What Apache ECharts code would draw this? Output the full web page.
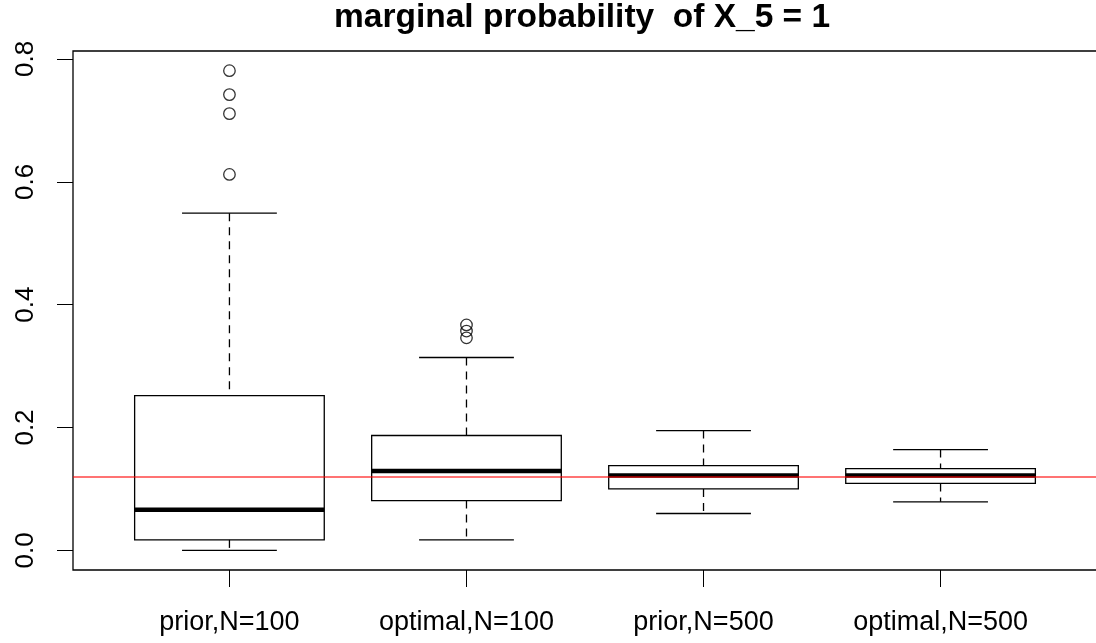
<!DOCTYPE html>
<html>
<head>
<meta charset="utf-8">
<title>marginal probability of X_5 = 1</title>
<script src="https://cdn.jsdelivr.net/npm/echarts@6/dist/echarts.min.js"></script>
<style>
  html, body { margin: 0; padding: 0; background: #fff; }
  #chart { width: 1096px; height: 643px; }
</style>
</head>
<body>
<div id="chart"></div>
<script>
// groups along the x axis (positions 1..4)
const categories = ["prior,N=100", "optimal,N=100", "prior,N=500", "optimal,N=500"]
const positions = [1, 2, 3, 4]

// box statistics
const lowerWhisker = [0.0, 0.017, 0.060, 0.079]
const lowerQuartile = [0.017, 0.081, 0.100, 0.109]
const medians = [0.066, 0.129, 0.122, 0.122]
const upperQuartile = [0.252, 0.187, 0.138, 0.133]
const upperWhisker = [0.549, 0.314, 0.195, 0.164]
const outliers = [
    [0.781, 0.742, 0.711, 0.612],
    [0.367, 0.357, 0.346],
    [],
    [],
]

const referenceValue = 0.12
const yTicks = [0, 0.2, 0.4, 0.6, 0.8]

const BOX_WEX = 0.8
const STAPLE_WEX = 0.4
const FONT = "'Liberation Sans', Arial, sans-serif"

const boxData = positions.map((p, i) => [
    p, lowerWhisker[i], lowerQuartile[i], medians[i], upperQuartile[i], upperWhisker[i],
])
const outlierData = []
outliers.forEach((list, i) => {
    list.forEach((v) => outlierData.push([positions[i], v]))
})

function renderBox(params, api) {
    const x = api.value(0)
    const cx = api.coord([x, 0])[0]
    const left = api.coord([x - BOX_WEX / 2, 0])[0]
    const right = api.coord([x + BOX_WEX / 2, 0])[0]
    const capL = api.coord([x - STAPLE_WEX / 2, 0])[0]
    const capR = api.coord([x + STAPLE_WEX / 2, 0])[0]
    const y = (i) => api.coord([x, api.value(i)])[1]

    const solid = { stroke: "#000", lineWidth: 1.3, fill: null }
    const dashed = { stroke: "#000", lineWidth: 1.3, lineDash: [8, 6] }

    return {
        type: "group",
        children: [
            { type: "line", shape: { x1: cx, y1: y(5), x2: cx, y2: y(4) }, style: dashed },
            { type: "line", shape: { x1: cx, y1: y(2), x2: cx, y2: y(1) }, style: dashed },
            { type: "line", shape: { x1: capL, y1: y(5), x2: capR, y2: y(5) }, style: solid },
            { type: "line", shape: { x1: capL, y1: y(1), x2: capR, y2: y(1) }, style: solid },
            {
                type: "rect",
                shape: { x: left, y: y(4), width: right - left, height: y(2) - y(4) },
                style: { stroke: "#000", lineWidth: 1.3, fill: "rgba(0,0,0,0)" },
            },
            {
                type: "line",
                shape: { x1: left, y1: y(3), x2: right, y2: y(3) },
                style: { stroke: "#000", lineWidth: 4.5 },
            },
        ],
    }
}

const chart = echarts.init(document.getElementById("chart"))

const option = {
    backgroundColor: "#fff",
    animation: false,
    title: {
        text: "marginal probability  of X_5 = 1",
        left: 334,
        top: 1,
        padding: 0,
        textStyle: {
            fontFamily: FONT,
            fontWeight: "bold",
            fontSize: 33.5,
            color: "#000",
        },
    },
    grid: {
        left: 73,
        top: 51,
        width: 1024,
        height: 519,
        show: true,
        borderColor: "#000",
        borderWidth: 1.3,
        backgroundColor: "transparent",
        outerBoundsMode: "none",
        containLabel: false,
    },
    xAxis: {
        type: "value",
        min: 0.34,
        max: 4.66,
        axisLine: { show: false, onZero: false },
        splitLine: { show: false },
        axisTick: {
            show: true,
            length: 17,
            customValues: positions,
            lineStyle: { color: "#000", width: 1 },
        },
        axisLabel: {
            show: true,
            customValues: positions,
            margin: 39,
            fontFamily: FONT,
            fontSize: 27,
            color: "#000",
            formatter: (v) => categories[positions.indexOf(Math.round(v))] || "",
        },
    },
    yAxis: {
        type: "value",
        min: -0.032,
        max: 0.813,
        axisLine: { show: false, onZero: false },
        splitLine: { show: false },
        axisTick: {
            show: true,
            length: 16,
            customValues: yTicks,
            lineStyle: { color: "#000", width: 1 },
        },
        axisLabel: {
            show: true,
            customValues: yTicks,
            rotate: 90,
            margin: 34,
            fontFamily: FONT,
            fontSize: 26,
            color: "#000",
            formatter: (v) => v.toFixed(1),
        },
    },
    series: [
        {
            type: "custom",
            name: "boxes",
            renderItem: renderBox,
            encode: { x: 0, y: [1, 2, 3, 4, 5] },
            data: boxData,
            z: 2,
        },
        {
            type: "scatter",
            name: "outliers",
            symbol: "circle",
            symbolSize: 11.5,
            itemStyle: { color: "rgba(0,0,0,0)", borderColor: "#000", borderWidth: 1.3 },
            data: outlierData,
            z: 3,
            markLine: {
                silent: true,
                symbol: ["none", "none"],
                label: { show: false },
                lineStyle: { color: "rgba(255,0,0,0.55)", width: 2, type: "solid" },
                data: [{ yAxis: referenceValue }],
                z: 5,
            },
        },
    ],
}

chart.setOption(option)
</script>
</body>
</html>
